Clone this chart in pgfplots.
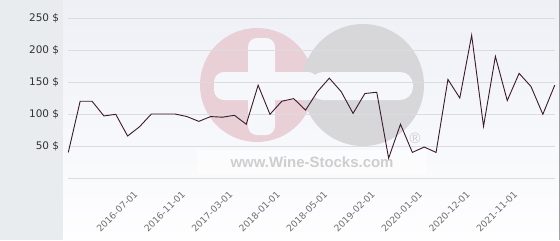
\documentclass[border=0pt]{standalone}
\usepackage{pgfplots}
\pgfplotsset{compat=1.18}
\usepackage{fontspec}
\setmainfont{DejaVu Sans}
\newfontfamily\wmfont{Liberation Sans}
\definecolor{panel}{RGB}{232,236,239}
\definecolor{bgtop}{RGB}{238,240,246}
\definecolor{bgbot}{RGB}{254,254,255}
\definecolor{gridc}{RGB}{220,220,223}
\definecolor{linec}{RGB}{60,25,45}
\definecolor{wmpink}{RGB}{233,207,214}
\definecolor{wmgray}{RGB}{215,215,217}
\definecolor{wmtext}{RGB}{206,206,208}
\definecolor{wmbar}{RGB}{246,247,250}
\definecolor{ylab}{RGB}{51,51,51}
\definecolor{xlab}{RGB}{110,110,110}
\pgfplotstableread{
x y
0 40
1 120
2 120
3 97
4 99.5
5 65.6
6 80
7 100
8 100
9 100
10 96
11 88.5
12 96
13 95
14 98
15 84
16 145
17 99.5
18 120
19 124
20 106
21 135
22 156
23 135
24 101
25 132
26 134
27 31
28 84
29 40
30 48.4
31 40
32 154
33 125
34 223
35 80.7
36 190
37 121
38 163.5
39 143
40 99.5
41 145
}\prices
\begin{document}
\begin{tikzpicture}[x=1bp,y=1bp]
\fill[panel] (0,0) rectangle (63,240);
\shade[top color=bgtop, bottom color=bgbot] (63,0) rectangle (559,240);
\fill[black!37] (559,0) rectangle (560,240);
% watermark
\fill[wmpink] (257,155) circle (57);
\fill[wmgray] (363,155) circle (61);
\fill[wmbar, rounded corners=9] (248,105) rectangle (275,202);
\fill[wmbar, rounded corners=10] (214,140) rectangle (318,168);
\fill[wmbar, rounded corners=13] (310,140) rectangle (413,168);
\fill[white, opacity=0.5] (197,66) rectangle (427,90);
\node[font=\wmfont\bfseries\fontsize{15}{15}\selectfont, text=wmtext, inner sep=0pt] at (312,78) {www.Wine-Stocks.com};
\node[font=\wmfont\fontsize{15}{15}\selectfont, text=wmtext, inner sep=0pt] at (415,102) {®};
\begin{axis}[
  at={(68.3bp,62bp)}, anchor=south west,
  scale only axis, width=486.4bp, height=160bp,
  xmin=0, xmax=41, ymin=0, ymax=250,
  axis line style={draw=none},
  tick style={draw=none},
  ytick={0,50,100,150,200,250},
  yticklabels={,50 \$,100 \$,150 \$,200 \$,250 \$},
  ymajorgrids, grid style={gridc, line width=0.8bp},
  xtick={6,10,14,18,22,26,30,34,38},
  xticklabels={2016-07-01,2016-11-01,2017-03-01,2018-01-01,2018-05-01,2019-02-01,2020-01-01,2020-12-01,2021-11-01},
  /pgf/number format/assume math mode=true,
  yticklabel style={font=\fontsize{10.5}{12}\selectfont, text=ylab, inner sep=0pt, xshift=-9bp},
  xticklabel style={font=\fontsize{9.2}{11}\selectfont, text=xlab, xshift=-6bp, yshift=-12bp, rotate=45, anchor=north east, inner sep=0pt},
  clip=false,
]
\addplot[linec, line width=0.9bp, mark=none] table[x=x,y=y] {\prices};
\end{axis}
\pgfresetboundingbox
\useasboundingbox (0,0) rectangle (560,240);
\end{tikzpicture}
\end{document}
